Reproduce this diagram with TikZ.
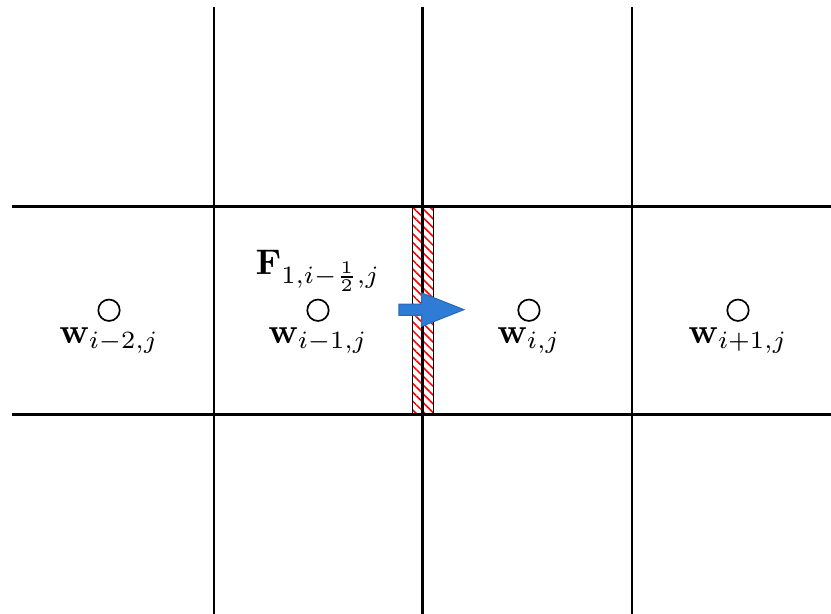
\documentclass[tikz,border=0pt]{standalone}
\definecolor{fluxblue}{HTML}{2E7CD6}
\definecolor{fluxedge}{HTML}{2A6BB5}
\usepackage{tikz}
\usetikzlibrary{positioning,patterns.meta}
\usepackage{amsmath,amssymb}

\begin{document}
\begin{tikzpicture}[
    gridline/.style={line width=1.15pt},
    cellpt/.style={circle,draw,line width=0.65pt,minimum size=0.29cm,inner sep=0pt},
    cellval/.style={scale=1.37,transform shape,inner sep=1.4pt},
]
    \useasboundingbox (0,0) rectangle (11.25,8.312);
    % hatched face between the cells i-1 and i
    \draw[line width=0.45pt,pattern={Lines[angle=-45,distance=2.4pt,line width=0.6pt]},pattern color=red] (5.587,2.707) rectangle (5.865,5.517);
    % grid
    \draw[gridline] (2.897,0) -- (2.897,8.217);
    \draw[gridline] (5.726,0) -- (5.726,8.217);
    \draw[gridline] (8.556,0) -- (8.556,8.217);
    \draw[gridline] (0.162,5.517) -- (11.25,5.517);
    \draw[gridline] (0.162,2.707) -- (11.25,2.707);
    % cell centres
    \node[cellpt] (c1) at (1.476,4.112) {};
    \node[cellpt] (c2) at (4.305,4.112) {};
    \node[cellpt] (c3) at (7.161,4.112) {};
    \node[cellpt] (c4) at (9.991,4.112) {};
    \node[cellval,below=0pt of c1] (w1) {$\mathbf{w}_{i-2,j}$};
    \node[cellval,below=0pt of c2] (w2) {$\mathbf{w}_{i-1,j}$};
    \node[cellval,below=0pt of c3] (w3) {$\mathbf{w}_{i,j}$};
    \node[cellval,below=0pt of c4] (w4) {$\mathbf{w}_{i+1,j}$};
    \node[cellval,above=0.5pt of c2] (flux) {$\mathbf{F}_{1,i-\frac{1}{2},j}$};
    % flux arrow
    \filldraw[fill=fluxblue,draw=fluxedge,line width=0.4pt] (5.401,4.044) -- (5.709,4.044) -- (5.709,3.894)
        -- (6.281,4.12) -- (5.709,4.346) -- (5.709,4.196) -- (5.401,4.196) -- cycle;
\end{tikzpicture}
\end{document}
